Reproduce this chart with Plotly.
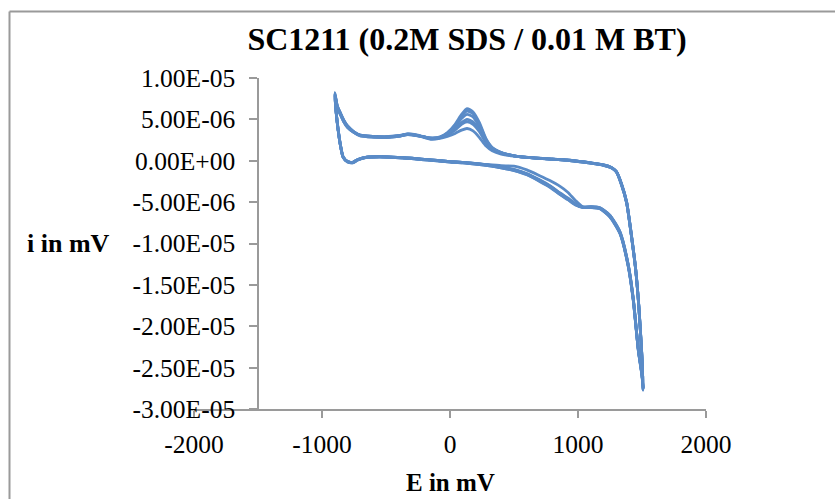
import plotly.graph_objects as go

# Potential grid (mV) for the anodic (upper) and return (lower) sweeps
E_UP = [-900, -880, -860, -830, -800, -750, -700, -600, -500, -400, -330, -250,
        -150, -80, -20, 40, 90, 133, 180, 230, 280, 330, 400, 500, 650, 800,
        950, 1100, 1200, 1260, 1300, 1340, 1380, 1420, 1450, 1475, 1497, 1510]
E_DN = [1510, 1500, 1471, 1432, 1393, 1328, 1250, 1172, 1100, 1040, 980, 920,
        860, 780, 700, 600, 500, 400, 250, 100, 0, -150, -300, -450, -550,
        -650, -720, -760, -800, -836, -855, -875, -890, -900]

# Currents in microampere, one list per cycle and sweep direction
I_UP_1 = [8.2, 6.6, 5.9, 4.9, 4.2, 3.5, 3.1, 2.95, 2.9, 3.0, 3.2, 3.05,
          2.6, 2.7, 2.95, 3.3, 3.7, 3.9, 3.6, 2.8, 1.8, 1.2, 0.8, 0.55, 0.35, 0.2,
          0.05, -0.25, -0.5, -0.8, -1.3, -2.8, -5.0, -9.3, -13.0, -17.5, -23.0, -27.7]
I_UP_2 = [8.2, 6.6, 5.9, 4.9, 4.2, 3.5, 3.1, 2.95, 2.9, 3.05, 3.25, 3.1,
          2.65, 2.75, 3.1, 3.7, 4.4, 4.7, 4.4, 3.5, 2.2, 1.4, 0.9, 0.6, 0.35, 0.2,
          0.05, -0.25, -0.5, -0.8, -1.3, -2.8, -5.0, -9.3, -13.0, -17.5, -23.0, -27.7]
I_UP_3 = [8.1, 6.5, 5.8, 4.8, 4.1, 3.45, 3.05, 2.9, 2.85, 3.0, 3.2, 3.05,
          2.7, 2.8, 3.2, 3.9, 4.6, 5.0, 4.7, 3.7, 2.3, 1.45, 0.95, 0.6, 0.35, 0.2,
          0.05, -0.25, -0.5, -0.8, -1.3, -2.8, -5.0, -9.3, -13.0, -17.5, -23.0, -27.6]
I_UP_4 = [8.0, 6.5, 5.8, 4.8, 4.1, 3.45, 3.05, 2.9, 2.85, 3.0, 3.2, 3.05,
          2.7, 2.8, 3.3, 4.1, 5.1, 5.6, 5.3, 4.1, 2.5, 1.5, 0.95, 0.6, 0.35, 0.2,
          0.0, -0.3, -0.55, -0.85, -1.35, -2.9, -5.1, -9.4, -13.1, -17.6, -23.1, -27.6]
I_UP_5 = [8.0, 6.4, 5.7, 4.7, 4.0, 3.4, 3.0, 2.85, 2.8, 2.95, 3.15, 3.0,
          2.75, 2.85, 3.35, 4.3, 5.4, 6.0, 5.7, 4.4, 2.6, 1.55, 1.0, 0.6, 0.35, 0.2,
          0.0, -0.3, -0.55, -0.85, -1.35, -2.9, -5.1, -9.4, -13.1, -17.6, -23.1, -27.5]
I_UP_6 = [7.9, 6.4, 5.7, 4.7, 4.0, 3.4, 3.0, 2.85, 2.8, 2.95, 3.15, 3.0,
          2.75, 2.85, 3.4, 4.4, 5.6, 6.3, 5.9, 4.6, 2.7, 1.6, 1.0, 0.6, 0.35, 0.2,
          0.0, -0.3, -0.55, -0.85, -1.35, -2.9, -5.1, -9.4, -13.1, -17.6, -23.1, -27.5]

I_DN_1 = [-27.7, -26.0, -22.9, -16.9, -12.8, -8.8, -6.8, -5.8, -5.65, -5.6, -4.8, -3.8,
          -3.1, -2.4, -1.8, -1.1, -0.64, -0.6, -0.4, -0.2, -0.1, 0.1, 0.3, 0.45, 0.5,
          0.45, 0.15, -0.2, -0.1, 0.5, 1.8, 3.9, 6.0, 8.2]
I_DN_2 = [-27.7, -26.0, -22.9, -16.9, -12.8, -8.8, -6.8, -5.8, -5.65, -5.65, -5.3, -4.6,
          -4.0, -3.1, -2.4, -1.6, -1.1, -0.8, -0.45, -0.2, -0.1, 0.1, 0.3, 0.45, 0.5,
          0.45, 0.15, -0.2, -0.1, 0.5, 1.8, 3.9, 6.0, 8.2]
I_DN_3 = [-27.6, -25.9, -22.8, -16.8, -12.7, -8.7, -6.7, -5.75, -5.6, -5.6, -5.2, -4.5,
          -3.9, -3.0, -2.3, -1.55, -1.05, -0.75, -0.4, -0.2, -0.1, 0.1, 0.3, 0.45, 0.5,
          0.45, 0.15, -0.2, -0.1, 0.5, 1.8, 3.9, 6.0, 8.1]
I_DN_4 = [-27.6, -25.9, -22.8, -16.8, -12.7, -8.7, -6.7, -5.75, -5.6, -5.6, -5.25, -4.55,
          -3.95, -3.05, -2.35, -1.6, -1.1, -0.8, -0.45, -0.2, -0.1, 0.1, 0.3, 0.45, 0.5,
          0.45, 0.15, -0.2, -0.1, 0.5, 1.8, 3.9, 6.0, 8.0]
I_DN_5 = [-27.5, -25.8, -22.7, -16.7, -12.6, -8.6, -6.6, -5.7, -5.55, -5.6, -5.3, -4.65,
          -4.05, -3.15, -2.45, -1.65, -1.15, -0.85, -0.5, -0.25, -0.15, 0.05, 0.25, 0.4, 0.45,
          0.4, 0.1, -0.25, -0.15, 0.45, 1.75, 3.8, 5.9, 8.0]
I_DN_6 = [-27.5, -25.8, -22.7, -16.7, -12.6, -8.6, -6.6, -5.7, -5.55, -5.65, -5.35, -4.7,
          -4.1, -3.2, -2.5, -1.7, -1.2, -0.85, -0.5, -0.25, -0.15, 0.05, 0.25, 0.4, 0.45,
          0.4, 0.1, -0.25, -0.15, 0.45, 1.75, 3.8, 5.9, 7.9]

CYCLES_UP = [I_UP_1, I_UP_2, I_UP_3, I_UP_4, I_UP_5, I_UP_6]
CYCLES_DN = [I_DN_1, I_DN_2, I_DN_3, I_DN_4, I_DN_5, I_DN_6]

# Axis ticks
Y_TICKS = [1.0e-5, 5.0e-6, 0.0, -5.0e-6, -1.0e-5, -1.5e-5, -2.0e-5, -2.5e-5, -3.0e-5]
Y_LABELS = ["1.00E-05", "5.00E-06", "0.00E+00", "-5.00E-06", "-1.00E-05",
            "-1.50E-05", "-2.00E-05", "-2.50E-05", "-3.00E-05"]
X_TICKS = [-2000, -1000, 0, 1000, 2000]

MICRO = 1e-6
LINE_BLUE = "#5A8BC7"
AXIS_GREY = "#9a9a9a"
SERIF = "Liberation Serif, Times New Roman, serif"

fig = go.Figure()
for up, dn in zip(CYCLES_UP, CYCLES_DN):
    xs = E_UP + E_DN[1:]
    ys = [v * MICRO for v in up + dn[1:]]
    fig.add_trace(go.Scatter(
        x=xs, y=ys, mode="lines",
        line=dict(color=LINE_BLUE, width=2.8, shape="spline", smoothing=0.6),
        showlegend=False, hoverinfo="skip",
    ))

W, H = 835, 499
L, R, T, B = 194, 129, 78, 90
pw, ph = W - L - R, H - T - B


def px_x(px):
    return (px - L) / pw


def px_y(py):
    return (H - B - py) / ph


TICK_FONT = dict(family=SERIF, size=25.5, color="black")

fig.update_layout(
    width=W, height=H,
    margin=dict(l=L, r=R, t=T, b=B),
    paper_bgcolor="white", plot_bgcolor="white",
    font=dict(family=SERIF, color="black", size=24),
    title=dict(
        text="<b>SC1211 (0.2M SDS / 0.01 M BT)</b>",
        font=dict(family=SERIF, size=32, color="black"),
        xref="container", x=467 / W, xanchor="center",
        yref="container", y=1 - 39 / H, yanchor="middle",
    ),
    xaxis=dict(
        range=[-2000, 2000], tickvals=X_TICKS, ticktext=[str(v) for v in X_TICKS],
        showgrid=False, zeroline=False,
        showline=True, linecolor=AXIS_GREY, linewidth=1.5,
        ticks="outside", ticklen=7, tickcolor=AXIS_GREY, tickwidth=1.5,
        ticklabelstandoff=5,
        tickfont=TICK_FONT,
    ),
    yaxis=dict(
        range=[-3.0e-5, 1.0e-5], tickvals=Y_TICKS, ticktext=Y_LABELS,
        showgrid=False, zeroline=False,
        anchor="free", position=0.125,
        showline=True, linecolor=AXIS_GREY, linewidth=1.5,
        ticks="outside", ticklen=8, tickcolor=AXIS_GREY, tickwidth=1.5,
        ticklabelstandoff=9,
        tickfont=TICK_FONT,
    ),
    annotations=[
        dict(text="<b>E in mV</b>", xref="paper", yref="paper",
             x=0.5, y=px_y(482), xanchor="center", yanchor="middle",
             showarrow=False, font=dict(family=SERIF, size=25, color="black")),
        dict(text="<b>i in mV</b>", xref="paper", yref="paper",
             x=px_x(68), y=px_y(243), xanchor="center", yanchor="middle",
             showarrow=False, font=dict(family=SERIF, size=26, color="black")),
    ],
    shapes=[
        # chart frame: top and left edges
        dict(type="line", xref="paper", yref="paper", layer="below",
             x0=px_x(9.5), y0=px_y(11.5), x1=px_x(840), y1=px_y(11.5),
             line=dict(color=AXIS_GREY, width=2)),
        dict(type="line", xref="paper", yref="paper", layer="below",
             x0=px_x(9.5), y0=px_y(11.5), x1=px_x(9.5), y1=px_y(505),
             line=dict(color=AXIS_GREY, width=2)),
    ],
)

fig.write_html("out.html")
